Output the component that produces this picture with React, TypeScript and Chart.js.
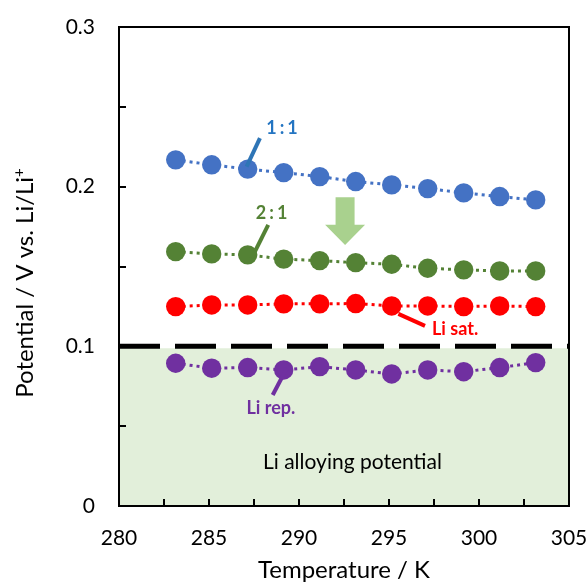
import React, { useEffect, useRef } from "react";
import { Chart, registerables } from "chart.js";

Chart.register(...registerables);

const temperatures = [283.15, 285.15, 287.15, 289.15, 291.15, 293.15, 295.15, 297.15, 299.15, 301.15, 303.15];
const ratio11 = [0.2168, 0.2137, 0.2110, 0.2088, 0.2063, 0.2032, 0.2011, 0.1988, 0.1961, 0.1938, 0.1917];
const ratio21 = [0.1593, 0.1579, 0.1573, 0.1546, 0.1537, 0.1524, 0.1514, 0.1489, 0.1479, 0.1472, 0.1472];
const liSat = [0.1249, 0.1259, 0.1259, 0.1266, 0.1266, 0.1268, 0.1253, 0.1253, 0.1249, 0.1253, 0.1249];
const liRep = [0.0894, 0.0863, 0.0867, 0.0852, 0.0873, 0.0852, 0.0827, 0.0852, 0.0841, 0.0867, 0.0898];

const alloyLimit = 0.1;
const shadeTop = 0.0988;
const xRange = [280, 305];
const yRange = [0, 0.3];

// label annotations in data units: [text, x, y, color, bold]
const labels: [string, number, number, string, boolean][] = [
  ["1:1", 289.14, 0.2368, "#2475C2", true],
  ["2:1", 288.56, 0.1833, "#548235", true],
  ["Li sat.", 298.67, 0.1109, "#FF0000", true],
  ["Li rep.", 288.44, 0.0614, "#7030A0", true],
  ["Li alloying potential", 292.97, 0.0276, "#000000", false],
];
// leader lines: [x1, y1, x2, y2, color]
const leaders: [number, number, number, number, string][] = [
  [287.83, 0.2304, 287.09, 0.2126, "#2E75B6"],
  [288.29, 0.1761, 287.37, 0.1552, "#548235"],
  [295.52, 0.1203, 297.0, 0.1128, "#FF0000"],
  [289.32, 0.0863, 288.54, 0.0695, "#7030A0"],
];
// arrow: x, top, neck, tip
const arrow = [292.56, 0.1934, 0.1761, 0.1635];

const FONT = "Lato, 'Open Sans', sans-serif";

const toPts = (vals: number[]) => vals.map((v, i) => ({ x: temperatures[i], y: v }));

const overlay = {
  id: "overlay",
  beforeDatasetsDraw(chart: any) {
    const { ctx, scales } = chart;
    const x = scales.x, y = scales.y;
    ctx.save();
    ctx.fillStyle = "#E2EFDA";
    const top = y.getPixelForValue(shadeTop);
    const bottom = y.getPixelForValue(0);
    ctx.fillRect(x.left, top, x.right - x.left, bottom - top);
    // arrow
    const cx = x.getPixelForValue(arrow[0]);
    const t = y.getPixelForValue(arrow[1]);
    const n = y.getPixelForValue(arrow[2]);
    const tip = y.getPixelForValue(arrow[3]);
    ctx.fillStyle = "#A9D18E";
    ctx.beginPath();
    ctx.moveTo(cx - 9.5, t);
    ctx.lineTo(cx + 9.5, t);
    ctx.lineTo(cx + 9.5, n);
    ctx.lineTo(cx + 20, n);
    ctx.lineTo(cx, tip);
    ctx.lineTo(cx - 20, n);
    ctx.lineTo(cx - 9.5, n);
    ctx.closePath();
    ctx.fill();
    ctx.restore();
  },
  afterDatasetsDraw(chart: any) {
    const { ctx, scales } = chart;
    const x = scales.x, y = scales.y;
    ctx.save();
    // frame
    ctx.strokeStyle = "#000";
    ctx.lineWidth = 2;
    ctx.strokeRect(x.left, y.top, x.right - x.left, y.bottom - y.top);
    // inward ticks
    ctx.beginPath();
    for (const tk of x.ticks) {
      const px = Math.round(x.getPixelForValue(tk.value));
      ctx.moveTo(px, y.bottom);
      ctx.lineTo(px, y.bottom - 7);
    }
    for (const tk of y.ticks) {
      const py = Math.round(y.getPixelForValue(tk.value));
      ctx.moveTo(x.left, py);
      ctx.lineTo(x.left + 7, py);
    }
    ctx.stroke();
    // leaders
    ctx.lineWidth = 4;
    for (const [x1, y1, x2, y2, c] of leaders) {
      ctx.strokeStyle = c;
      ctx.beginPath();
      ctx.moveTo(x.getPixelForValue(x1), y.getPixelForValue(y1));
      ctx.lineTo(x.getPixelForValue(x2), y.getPixelForValue(y2));
      ctx.stroke();
    }
    // labels
    ctx.textAlign = "center";
    ctx.textBaseline = "middle";
    for (const [txt, lx, ly, c, bold] of labels) {
      ctx.fillStyle = c;
      ctx.font = bold ? `bold 18px ${FONT}` : `21px ${FONT}`;
      (ctx as any).letterSpacing = txt.includes(":") ? "3px" : "0px";
      ctx.fillText(txt, x.getPixelForValue(lx), y.getPixelForValue(ly));
    }
    (ctx as any).letterSpacing = "0px";
    // axis titles
    ctx.fillStyle = "#000";
    ctx.font = `24px ${FONT}`;
    ctx.textBaseline = "alphabetic";
    ctx.fillText("Temperature / K", (x.left + x.right) / 2, 578);
    ctx.translate(33, 283);
    ctx.rotate(-Math.PI / 2);
    const main = "Potential / V vs. Li/Li";
    const w1 = ctx.measureText(main).width;
    ctx.font = `15px ${FONT}`;
    const w2 = ctx.measureText("+").width;
    const start = -(w1 + w2) / 2;
    ctx.textAlign = "left";
    ctx.font = `24px ${FONT}`;
    ctx.fillText(main, start, 0);
    ctx.font = `15px ${FONT}`;
    ctx.fillText("+", start + w1, -9);
    ctx.restore();
  },
};

const noPad = (s: any) => {
  s.paddingLeft = 0;
  s.paddingRight = 0;
  s.paddingTop = 0;
  s.paddingBottom = 0;
};

export default function App() {
  const ref = useRef<HTMLCanvasElement>(null);
  useEffect(() => {
    if (!ref.current) return;
    const mk = (vals: number[], color: string) => ({
      type: "line" as const,
      data: toPts(vals),
      borderColor: color,
      backgroundColor: color,
      borderWidth: 3,
      borderDash: [3, 4],
      pointRadius: 9.7,
      pointBorderWidth: 0,
      pointBackgroundColor: color,
      pointHoverRadius: 9.7,
      tension: 0,
    });
    const chart = new Chart(ref.current, {
      type: "line",
      data: {
        datasets: [
          mk(ratio11, "#4472C4"),
          mk(ratio21, "#548235"),
          mk(liSat, "#FF0000"),
          mk(liRep, "#7030A0"),
          {
            type: "line",
            data: [
              { x: xRange[0], y: alloyLimit },
              { x: xRange[1], y: alloyLimit },
            ],
            borderColor: "#000",
            borderWidth: 5,
            borderDash: [41, 15],
            pointRadius: 0,
          } as any,
        ],
      },
      options: {
        animation: false,
        responsive: false,
        events: [],
        layout: { padding: { top: 27, right: 19, left: 0, bottom: 0 } },
        plugins: { legend: { display: false }, tooltip: { enabled: false } },
        scales: {
          x: {
            type: "linear",
            min: xRange[0],
            max: xRange[1],
            grid: { display: false, drawTicks: false },
            border: { display: false },
            afterFit: (s: any) => { s.height = 78; noPad(s); },
            ticks: {
              stepSize: 2.5,
              autoSkip: false,
              maxRotation: 0,
              padding: 20,
              color: "#000",
              font: { family: FONT, size: 21 },
              callback: (v: any) => (Math.abs(v % 5) < 1e-6 ? String(v) : ""),
            },
          },
          y: {
            type: "linear",
            min: yRange[0],
            max: yRange[1],
            grid: { display: false, drawTicks: false },
            border: { display: false },
            afterFit: (s: any) => { s.width = 119; noPad(s); },
            ticks: {
              stepSize: 0.05,
              autoSkip: false,
              padding: 24,
              color: "#000",
              font: { family: FONT, size: 21 },
              callback: (v: any) => {
                const r = Math.round(v * 10);
                if (Math.abs(v * 10 - r) > 1e-6) return "";
                return r === 0 ? "0" : (r / 10).toFixed(1);
              },
            },
          },
        },
      },
      plugins: [overlay],
    });
    return () => chart.destroy();
  }, []);
  return (
    <div style={{ position: "fixed", left: 0, top: 0, width: 588, height: 584, background: "#fff" }}>
      <canvas ref={ref} width={588} height={584} style={{ width: 588, height: 584 }} />
    </div>
  );
}
